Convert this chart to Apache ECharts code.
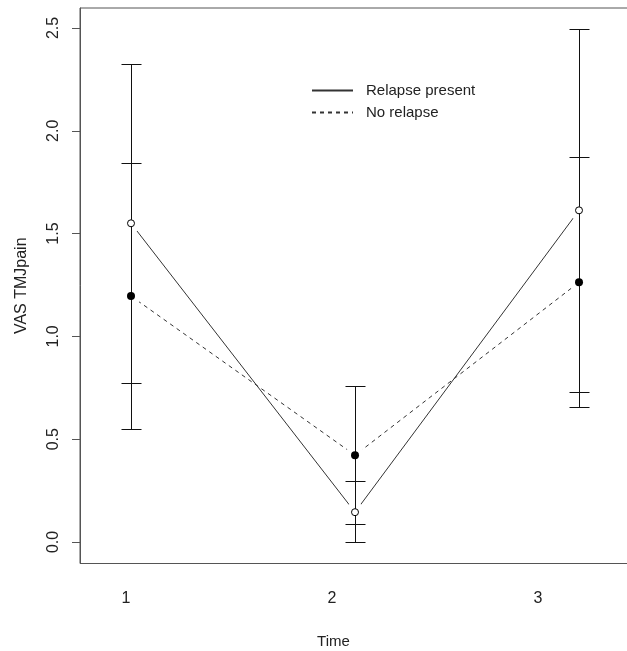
<!DOCTYPE html>
<html>
<head>
    <meta charset="utf-8" />
    <script src="https://cdn.jsdelivr.net/npm/echarts@6/dist/echarts.min.js"></script>
    <style type="text/css">
        html, body { margin: 0; padding: 0; background: #fff; }
        #main { width: 627px; height: 651px; }
    </style>
</head>
<body>
    <div id="main"></div>
    <script type="text/javascript">
        // time points and axis ticks
        var times = [1, 2, 3];
        var timeLabels = [1, 2, 3];
        var yTicks = [0, 0.5, 1, 1.5, 2, 2.5];
        // relapse present (open circles, solid line)
        var relapseMean = [1.55, 0.145, 1.613];
        var relapseLow = [0.772, 0.0, 0.728];
        var relapseHigh = [2.325, 0.298, 2.494];
        // no relapse (filled circles, dashed line)
        var noRelapseMean = [1.196, 0.422, 1.263];
        var noRelapseLow = [0.55, 0.089, 0.658];
        var noRelapseHigh = [1.842, 0.759, 1.871];

        var font = "'Liberation Sans', Arial, sans-serif";

        function pairs(xs, ys) {
            return xs.map(function (x, i) { return [x, ys[i]]; });
        }
        function bars(xs, lo, hi) {
            return xs.map(function (x, i) { return [x, lo[i], hi[i]]; });
        }

        // 误差线
        function renderBar(params, api) {
            var x = api.value(0);
            var lo = api.coord([x, api.value(1)]);
            var hi = api.coord([x, api.value(2)]);
            var px = Math.round(lo[0]) + 0.5;
            var yl = Math.round(lo[1]) + 0.5;
            var yh = Math.round(hi[1]) + 0.5;
            var w = 10;
            var st = { stroke: "#111", lineWidth: 1 };
            return {
                type: "group",
                children: [
                    { type: "line", shape: { x1: px, y1: yl, x2: px, y2: yh }, style: st },
                    { type: "line", shape: { x1: px - w, y1: yl, x2: px + w, y2: yl }, style: st },
                    { type: "line", shape: { x1: px - w, y1: yh, x2: px + w, y2: yh }, style: st }
                ]
            };
        }

        var chart = echarts.init(document.getElementById("main"));
        var option = {
            animation: false,
            backgroundColor: "#fff",
            grid: {
                show: true,
                left: 80, top: 8, width: 560, bottom: 87.5,
                borderColor: "#555", borderWidth: 1,
                outerBoundsMode: "none"
            },
            legend: {
                orient: "vertical",
                left: 306, top: 78,
                itemWidth: 41, itemHeight: 14, itemGap: 7,
                data: ["Relapse present", "No relapse"],
                itemStyle: { color: "transparent", borderColor: "transparent", borderWidth: 0 },
                textStyle: { fontSize: 15, color: "#222", fontFamily: font, padding: [0, 0, 0, 8] }
            },
            xAxis: [
                {
                    // data axis
                    type: "value", position: "top",
                    min: 0.7723, max: 3.2723,
                    axisLine: { show: false }, axisTick: { show: false },
                    axisLabel: { show: false }, splitLine: { show: false }
                },
                {
                    // label axis
                    type: "value", position: "bottom",
                    min: 0.7767, max: 3.4952,
                    axisLine: { show: false }, axisTick: { show: false }, splitLine: { show: false },
                    axisLabel: { customValues: timeLabels, margin: 27, fontSize: 16, color: "#222", fontFamily: font },
                    name: "Time", nameLocation: "middle", nameGap: 71,
                    nameTextStyle: { fontSize: 15, color: "#222", fontFamily: font, padding: [0, 53, 0, 0] }
                }
            ],
            yAxis: {
                type: "value",
                min: -0.1046, max: 2.597,
                axisLine: { show: true, lineStyle: { color: "#555" } },
                axisTick: { show: true, customValues: yTicks, length: 8, lineStyle: { color: "#555" } },
                axisLabel: {
                    customValues: yTicks, rotate: 90, margin: 18,
                    fontSize: 16, color: "#222", fontFamily: font,
                    formatter: function (v) { return v.toFixed(1); }
                },
                splitLine: { show: false },
                name: "VAS TMJpain", nameLocation: "middle", nameGap: 50,
                nameTextStyle: { fontSize: 16, color: "#222", fontFamily: font }
            },
            series: [
                {
                    name: "Relapse present", type: "line", xAxisIndex: 0,
                    data: pairs(times, relapseMean), symbol: "none", z: 1,
                    lineStyle: { color: "#333", width: 1, type: "solid" },
                    itemStyle: { color: "#333" }
                },
                {
                    name: "No relapse", type: "line", xAxisIndex: 0,
                    data: pairs(times, noRelapseMean), symbol: "none", z: 1,
                    lineStyle: { color: "#333", width: 1, type: [4, 4] },
                    itemStyle: { color: "#333" }
                },
                {
                    // white halo so lines stop short of the points
                    type: "scatter", xAxisIndex: 0, silent: true, z: 2,
                    data: pairs(times, relapseMean).concat(pairs(times, noRelapseMean)),
                    symbolSize: 20, itemStyle: { color: "#fff", opacity: 1 }
                },
                {
                    type: "custom", xAxisIndex: 0, z: 3,
                    renderItem: renderBar,
                    encode: { x: 0, y: [1, 2] },
                    data: bars(times, relapseLow, relapseHigh).concat(bars(times, noRelapseLow, noRelapseHigh))
                },
                {
                    type: "scatter", xAxisIndex: 0, z: 4,
                    data: pairs(times, relapseMean), symbolSize: 7,
                    itemStyle: { color: "#fff", borderColor: "#000", borderWidth: 1, opacity: 1 }
                },
                {
                    type: "scatter", xAxisIndex: 0, z: 4,
                    data: pairs(times, noRelapseMean), symbolSize: 8,
                    itemStyle: { color: "#000", opacity: 1 }
                }
            ]
        };
        chart.setOption(option);
    </script>
</body>
</html>
